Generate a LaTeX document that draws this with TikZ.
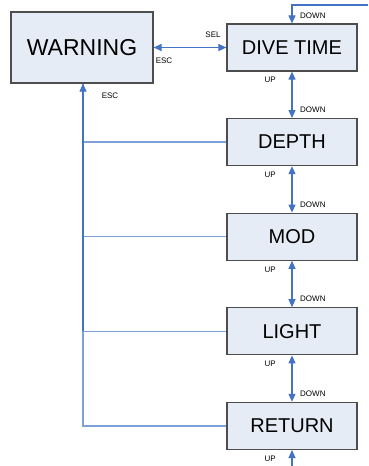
\documentclass[tikz,border=0pt]{standalone}
\usepackage{fontspec}
\setmainfont{Liberation Sans}
\usetikzlibrary{positioning, arrows.meta}

\definecolor{boxfill}{HTML}{E6ECF6}
\definecolor{boxline}{HTML}{4D4D4D}
\definecolor{linkblue}{HTML}{4472C4}
\definecolor{branchblue}{HTML}{7F9FD8}

\tikzset{
    menu/.style={draw=boxline, fill=boxfill, line width=1.2pt, minimum width=130pt,
        minimum height=47pt, inner sep=0pt, font=\fontsize{20}{22}\selectfont},
    keylabel/.style={font=\fontsize{8}{9}\selectfont, inner sep=0pt},
    link/.style={linkblue, line width=1.1pt, -{Triangle[length=8pt,width=7pt]}},
    twoway/.style={linkblue, line width=1.1pt,
        {Triangle[length=8pt,width=7pt]}-{Triangle[length=8pt,width=7pt]}},
    branch/.style={branchblue, line width=1.4pt},
}

\begin{document}
\begin{tikzpicture}[x=1pt, y=-1pt]
    \useasboundingbox (0,0) rectangle (368,466);

    % menu boxes
    \node[menu, minimum width=142pt, minimum height=71pt, font=\fontsize{23}{25}\selectfont]
        (warning) at (82,47.5) {WARNING};
    \node[menu] (dive) at (292,47.5) {DIVE TIME};
    \node[menu, below=46.4pt of dive] (depth) {DEPTH};
    \node[menu, below=46.4pt of depth] (mod) {MOD};
    \node[menu, below=46.4pt of mod] (light) {LIGHT};
    \node[menu, below=46.4pt of light] (return) {RETURN};

    % free ends
    \coordinate (topin) at (368,5);
    \coordinate (botin) at (292,466);
    \coordinate (escin) at ([xshift=1pt]warning.south);

    % up / down chain
    \draw[link] (topin) -| (dive.north);
    \foreach \a/\b in {dive/depth, depth/mod, mod/light, light/return}
        \draw[twoway] (\a.south) -- (\b.north);
    \draw[link] (botin) -- (return.south);

    \foreach \m in {dive, depth, mod, light, return} {
        \node[keylabel, anchor=west] (down-\m) at ([xshift=8pt, yshift=8pt]\m.north) {DOWN};
        \node[keylabel, anchor=east] (up-\m) at ([xshift=-16pt, yshift=-8.5pt]\m.south) {UP};
    }

    % warning <-> dive time
    \draw[twoway] (warning.east) -- (dive.west);
    \node[keylabel] (sel) at (213,35) {SEL};
    \node[keylabel] (esc-a) at (164,61) {ESC};

    % escape back to warning
    \draw[branch] (return.west) -| (escin);
    \foreach \m in {depth, mod, light}
        \draw[branch] (\m.west) -- (\m.west -| escin);
    \draw[link] (light.west -| escin) -- (escin);
    \node[keylabel] (esc-b) at (110,95.5) {ESC};
\end{tikzpicture}
\end{document}
